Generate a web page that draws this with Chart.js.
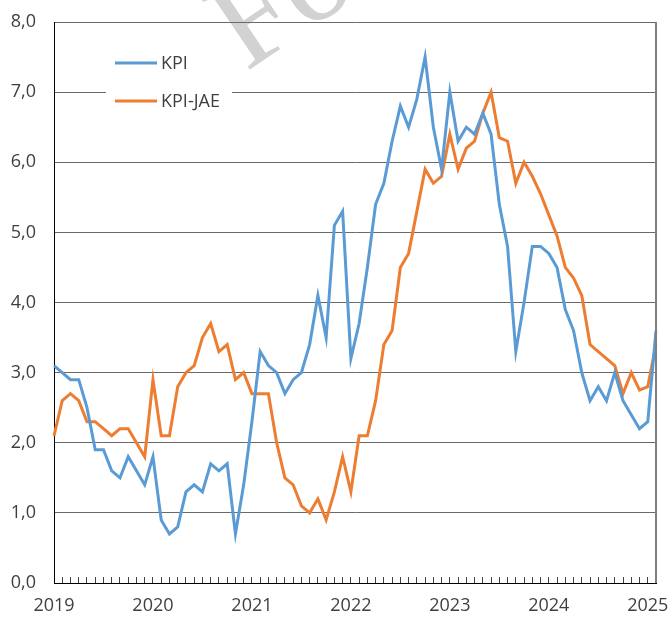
<!DOCTYPE html>
<html>
<head>
<meta charset="utf-8">
<script src="https://cdn.jsdelivr.net/npm/chart.js@4.4.1/dist/chart.umd.min.js"></script>
<style>
  html, body { margin: 0; padding: 0; background: #fff; }
  #wrap { width: 670px; height: 617px; position: relative; }
</style>
</head>
<body>
<div id="wrap"><canvas id="kpiChart"></canvas></div>
<script>
// Monthly data, Jan 2019 - Feb 2025
const years = [2019, 2020, 2021, 2022, 2023, 2024, 2025];
const monthNames = ['01', '02', '03', '04', '05', '06', '07', '08', '09', '10', '11', '12'];
const lastMonthIndex = 73; // Feb 2025

const kpi = [
    3.1, 3.0, 2.9, 2.9, 2.5, 1.9, 1.9, 1.6, 1.5, 1.8, 1.6, 1.4,
    1.8, 0.9, 0.7, 0.8, 1.3, 1.4, 1.3, 1.7, 1.6, 1.7, 0.7, 1.4,
    2.3, 3.3, 3.1, 3.0, 2.7, 2.9, 3.0, 3.4, 4.1, 3.5, 5.1, 5.3,
    3.2, 3.7, 4.5, 5.4, 5.7, 6.3, 6.8, 6.5, 6.9, 7.5, 6.5, 5.9,
    7.0, 6.3, 6.5, 6.4, 6.7, 6.4, 5.4, 4.8, 3.3, 4.0, 4.8, 4.8,
    4.7, 4.5, 3.9, 3.6, 3.0, 2.6, 2.8, 2.6, 3.0, 2.6, 2.4, 2.2,
    2.3, 3.6
];

const kpiJae = [
    2.1, 2.6, 2.7, 2.6, 2.3, 2.3, 2.2, 2.1, 2.2, 2.2, 2.0, 1.8,
    2.9, 2.1, 2.1, 2.8, 3.0, 3.1, 3.5, 3.7, 3.3, 3.4, 2.9, 3.0,
    2.7, 2.7, 2.7, 2.0, 1.5, 1.4, 1.1, 1.0, 1.2, 0.9, 1.3, 1.8,
    1.3, 2.1, 2.1, 2.6, 3.4, 3.6, 4.5, 4.7, 5.3, 5.9, 5.7, 5.8,
    6.4, 5.9, 6.2, 6.3, 6.7, 7.0, 6.35, 6.3, 5.7, 6.0, 5.8, 5.55,
    5.25, 4.95, 4.5, 4.35, 4.1, 3.4, 3.3, 3.2, 3.1, 2.7, 3.0, 2.75,
    2.8, 3.4
];

const yTicks = [0, 1, 2, 3, 4, 5, 6, 7, 8];

const labels = years
    .flatMap(y => monthNames.map(m => y + '-' + m))
    .slice(0, lastMonthIndex + 1);

const FONT = '"Open Sans", "DejaVu Sans", sans-serif';
const TEXT_COLOR = '#3f3f3f';

// Watermark behind everything
const watermark = {
    id: 'watermark',
    beforeDraw(chart) {
        const ctx = chart.ctx;
        ctx.save();
        ctx.translate(246, 72);
        ctx.rotate(-34 * Math.PI / 180);
        ctx.font = '130px "Liberation Serif", "DejaVu Serif", serif';
        ctx.fillStyle = '#d2d2d2';
        ctx.textBaseline = 'alphabetic';
        ctx.fillText('Förslag', 0, 0);
        ctx.restore();
    }
};

// Right frame line + legend inside the plot area
const frameAndLegend = {
    id: 'frameAndLegend',
    afterDatasetsDraw(chart) {
        const ctx = chart.ctx;
        const area = chart.chartArea;

        ctx.save();
        ctx.strokeStyle = '#7f7f7f';
        ctx.lineWidth = 2;
        ctx.beginPath();
        ctx.moveTo(area.right, area.top);
        ctx.lineTo(area.right, area.bottom);
        ctx.stroke();

        // legend box
        ctx.fillStyle = '#ffffff';
        ctx.fillRect(106, 46, 126, 72);
        chart.data.datasets.forEach((ds, i) => {
            const y = 63 + i * 38;
            ctx.strokeStyle = ds.borderColor;
            ctx.lineWidth = 3;
            ctx.beginPath();
            ctx.moveTo(115, y);
            ctx.lineTo(157, y);
            ctx.stroke();
            ctx.fillStyle = TEXT_COLOR;
            ctx.font = '18px ' + FONT;
            ctx.textBaseline = 'middle';
            ctx.textAlign = 'left';
            ctx.fillText(ds.label, 161, y + 1);
        });
        ctx.restore();
    }
};

new Chart(document.getElementById('kpiChart'), {
    type: 'line',
    data: {
        labels: labels,
        datasets: [
            {
                label: 'KPI',
                data: kpi,
                borderColor: '#5b9bd5',
                borderWidth: 3,
                pointRadius: 0,
                tension: 0,
                fill: false
            },
            {
                label: 'KPI-JAE',
                data: kpiJae,
                borderColor: '#ed7d31',
                borderWidth: 3,
                pointRadius: 0,
                tension: 0,
                fill: false
            }
        ]
    },
    options: {
        responsive: true,
        maintainAspectRatio: false,
        animation: false,
        layout: { padding: { top: 22, right: 14, bottom: 0, left: 0 } },
        plugins: {
            legend: { display: false },
            tooltip: { enabled: false }
        },
        scales: {
            x: {
                type: 'category',
                offset: false,
                grid: {
                    drawOnChartArea: false,
                    drawTicks: true,
                    tickLength: -6,
                    color: '#3f3f3f'
                },
                border: { color: '#000000', width: 1 },
                ticks: {
                    autoSkip: false,
                    maxRotation: 0,
                    padding: 18,
                    color: TEXT_COLOR,
                    font: { family: FONT, size: 18 },
                    callback: function (value) {
                        const lbl = this.getLabelForValue(value);
                        return lbl.endsWith('-01') ? lbl.slice(0, 4) : '';
                    }
                },
                afterFit: scale => {
                    scale.height = 34;
                    scale.paddingLeft = 0;
                    scale.paddingRight = 0;
                }
            },
            y: {
                min: 0,
                max: 8,
                afterBuildTicks: scale => {
                    scale.ticks = yTicks.map(v => ({ value: v }));
                },
                grid: {
                    color: '#6a6a6a',
                    lineWidth: 1,
                    drawTicks: false
                },
                border: { color: '#000000', width: 1 },
                ticks: {
                    padding: 18,
                    color: TEXT_COLOR,
                    font: { family: FONT, size: 18 },
                    callback: v => v.toFixed(1).replace('.', ',')
                },
                afterFit: scale => {
                    scale.width = 54;
                    scale.paddingTop = 0;
                    scale.paddingBottom = 0;
                }
            }
        }
    },
    plugins: [watermark, frameAndLegend]
});
</script>
</body>
</html>
